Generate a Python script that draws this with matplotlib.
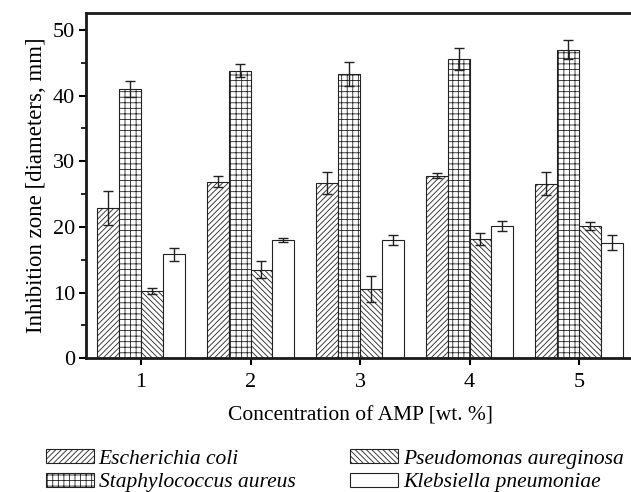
import numpy as np
import matplotlib
matplotlib.use("Agg")
import matplotlib.pyplot as plt
from matplotlib.patches import Patch

# -----------------------------
# Data
# -----------------------------
concentrations = [1, 2, 3, 4, 5]
species = ["Escherichia coli", "Staphylococcus aureus",
           "Pseudomonas aureginosa", "Klebsiella pneumoniae"]

e_coli = [22.9, 26.9, 26.7, 27.8, 26.6]
e_coli_err = [2.6, 0.9, 1.65, 0.35, 1.7]
s_aureus = [41.0, 43.8, 43.3, 45.6, 47.0]
s_aureus_err = [1.2, 1.05, 1.8, 1.65, 1.5]
p_aureginosa = [10.25, 13.5, 10.55, 18.2, 20.1]
p_aureginosa_err = [0.45, 1.35, 2.0, 0.9, 0.6]
k_pneumoniae = [15.8, 18.0, 18.0, 20.1, 17.6]
k_pneumoniae_err = [1.0, 0.25, 0.8, 0.8, 1.2]

values = [e_coli, s_aureus, p_aureginosa, k_pneumoniae]
errors = [e_coli_err, s_aureus_err, p_aureginosa_err, k_pneumoniae_err]
hatches = ["//////", "+++", "\\\\\\\\\\\\", ""]

# -----------------------------
# Style
# -----------------------------
plt.rcParams["font.family"] = ["Liberation Serif", "DejaVu Serif"]
plt.rcParams["hatch.linewidth"] = 0.6
plt.rcParams["hatch.color"] = "#333333"

fig = plt.figure(figsize=(6.31, 4.92), dpi=100)
# right edge of the axes sits just past the image border (as in the original)
ax = fig.add_axes([0.1367, 0.272, 0.8677, 0.702])

x = np.array(concentrations, dtype=float)
width = 0.2
offsets = [-0.3, -0.1, 0.1, 0.3]

for vals, errs, h, off in zip(values, errors, hatches, offsets):
    ax.bar(x + off, vals, width, color="white", edgecolor="#222222",
           linewidth=0.8, hatch=h, zorder=2)
    ax.errorbar(x + off, vals, yerr=errs, fmt="none", ecolor="#222222",
                elinewidth=1.0, capsize=3.5, capthick=1.0, zorder=3)

ax.set_xlim(0.5, 5.5)
ax.set_ylim(0, 52.6)
ax.set_xticks(concentrations)
ax.set_yticks(range(0, 51, 10))
ax.set_yticks(range(5, 50, 10), minor=True)

for s in ax.spines.values():
    s.set_linewidth(2.0)
    s.set_color("#1a1a1a")
ax.spines["right"].set_visible(False)

ax.tick_params(axis="both", which="major", direction="out", length=5,
               width=1.5, labelsize=16)
ax.tick_params(axis="x", which="major", pad=6)
ax.tick_params(axis="y", which="major", pad=3)
ax.tick_params(axis="y", which="minor", direction="out", length=3.5, width=1.2)

ax.set_xlabel("Concentration of AMP [wt. %]", fontsize=15.5, labelpad=10)
ax.set_ylabel("Inhibition zone [diameters, mm]", fontsize=16.5, labelpad=4)

handles = [Patch(facecolor="white", edgecolor="#222222", hatch=h, linewidth=0.8)
           for h in hatches]
# order: col 1 = E. coli, S. aureus; col 2 = P. aureginosa, K. pneumoniae
fig.legend(handles, species, ncol=2, loc="lower left",
           bbox_to_anchor=(0.042, -0.04), frameon=False,
           prop={"style": "italic", "size": 15.5},
           handlelength=2.23, handleheight=0.6, handletextpad=0.22,
           columnspacing=2.55, labelspacing=0.2)

fig.savefig("out.png", dpi=100)
